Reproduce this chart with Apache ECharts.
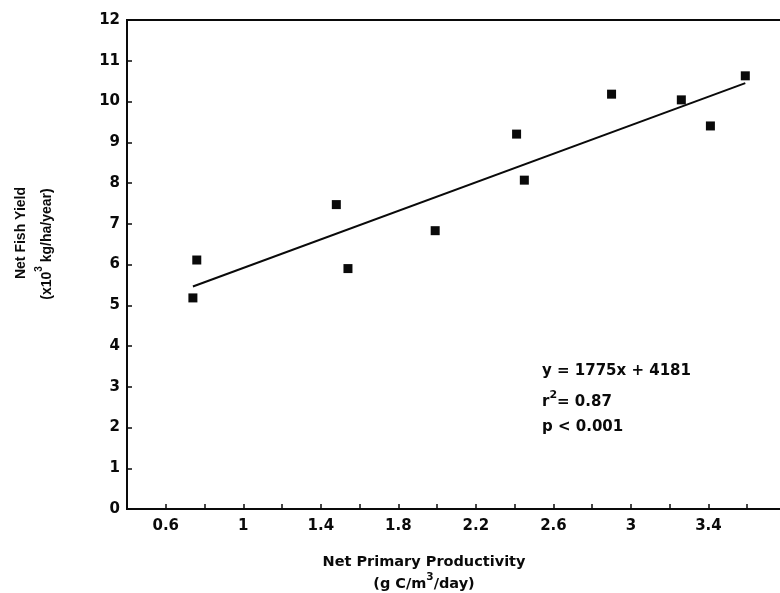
<!DOCTYPE html>
<html>
<head>
<meta charset="UTF-8">
<title>Net Fish Yield vs Net Primary Productivity</title>
<script src="https://cdn.jsdelivr.net/npm/echarts@6/dist/echarts.min.js"></script>
<style>
html, body { margin: 0; padding: 0; width: 780px; height: 593px; overflow: hidden; background: #fff; }
#chart { width: 790px; height: 593px; }
</style>
</head>
<body>
<div id="chart"></div>
<script>
// observed points (g C/m3/day , x10^3 kg/ha/year)
var productivity = [0.74, 0.76, 1.48, 1.54, 1.99, 2.41, 2.45, 2.90, 3.26, 3.41, 3.59];
var fishYield = [5.18, 6.11, 7.47, 5.90, 6.83, 9.20, 8.07, 10.18, 10.04, 9.40, 10.63];
// regression line end points
var fitX = [0.74, 3.59];
var fitY = [5.46, 10.45];
// tick labels shown on the x axis (ticks every 0.2)
var xLabels = [0.6, 1, 1.4, 1.8, 2.2, 2.6, 3, 3.4];

var font = '"DejaVu Sans", Verdana, sans-serif';
var fontY = '"Liberation Sans", Arial, Helvetica, sans-serif';
var ink = '#0a0a0a';

function pairs(xs, ys) {
    var out = [];
    for (var i = 0; i < xs.length; i++) out.push([xs[i], ys[i]]);
    return out;
}

function sup(family, size, subSize, lh) {
    return {
        a: { fontFamily: family, fontSize: size, fontWeight: 'bold', lineHeight: lh, verticalAlign: 'bottom' },
        s: { fontFamily: family, fontSize: subSize, fontWeight: 'bold', lineHeight: lh, verticalAlign: 'top' }
    };
}

var chart = echarts.init(document.getElementById('chart'));
var option = {
    backgroundColor: '#fff',
    animation: false,
    grid: {
        left: 127,
        right: 4,
        top: 20,
        bottom: 84,
        show: true,
        borderColor: ink,
        borderWidth: 2
    },
    xAxis: {
        type: 'value',
        min: 0.4,
        max: 3.8,
        interval: 0.2,
        axisLine: { lineStyle: { color: ink, width: 2 } },
        axisTick: { inside: true, length: 5, lineStyle: { color: ink, width: 1.5 } },
        splitLine: { show: false },
        axisLabel: {
            color: ink,
            fontFamily: font,
            fontSize: 15,
            fontWeight: 'bold',
            margin: 10,
            formatter: function (v) {
                for (var i = 0; i < xLabels.length; i++) {
                    if (Math.abs(v - xLabels[i]) < 1e-6) return String(xLabels[i]);
                }
                return '';
            }
        }
    },
    yAxis: {
        type: 'value',
        min: 0,
        max: 12,
        interval: 1,
        axisLine: { lineStyle: { color: ink, width: 2 } },
        axisTick: { inside: true, length: 5, lineStyle: { color: ink, width: 1.5 } },
        splitLine: { show: false },
        axisLabel: {
            color: ink,
            fontFamily: font,
            fontSize: 15,
            fontWeight: 'bold',
            margin: 7
        }
    },
    series: [{
        type: 'scatter',
        data: pairs(productivity, fishYield),
        symbol: 'rect',
        symbolSize: 9,
        itemStyle: { color: ink, opacity: 1 }
    }, {
        type: 'line',
        data: pairs(fitX, fitY),
        symbol: 'none',
        lineStyle: { color: ink, width: 2 }
    }],
    graphic: [{
        type: 'text',
        x: 542,
        y: 371,
        style: {
            text: 'y = 1775x + 4181',
            font: 'bold 15px ' + font,
            fill: ink,
            verticalAlign: 'middle'
        }
    }, {
        type: 'text',
        x: 542,
        y: 400,
        style: {
            text: '{a|r}{s|2}{a|= 0.87}',
            fill: ink,
            verticalAlign: 'middle',
            rich: sup(font, 15, 11, 20)
        }
    }, {
        type: 'text',
        x: 542,
        y: 427,
        style: {
            text: 'p < 0.001',
            font: 'bold 15px ' + font,
            fill: ink,
            verticalAlign: 'middle'
        }
    }, {
        type: 'text',
        x: 424,
        y: 562,
        style: {
            text: 'Net Primary Productivity',
            font: 'bold 14.5px ' + font,
            fill: ink,
            align: 'center',
            verticalAlign: 'middle'
        }
    }, {
        type: 'text',
        x: 424,
        y: 582,
        style: {
            text: '{a|(g C/m}{s|3}{a|/day)}',
            fill: ink,
            align: 'center',
            verticalAlign: 'middle',
            rich: sup(font, 14.5, 10.5, 20)
        }
    }, {
        type: 'text',
        x: 21,
        y: 233,
        rotation: Math.PI / 2,
        style: {
            text: 'Net Fish Yield',
            font: 'bold 14px ' + fontY,
            fill: ink,
            align: 'center',
            verticalAlign: 'middle'
        }
    }, {
        type: 'text',
        x: 44,
        y: 244,
        rotation: Math.PI / 2,
        style: {
            text: '{a|(x10}{s|3}{a| kg/ha/year)}',
            fill: ink,
            align: 'center',
            verticalAlign: 'middle',
            rich: sup(fontY, 14, 10, 20)
        }
    }]
};
chart.setOption(option);
</script>
</body>
</html>
